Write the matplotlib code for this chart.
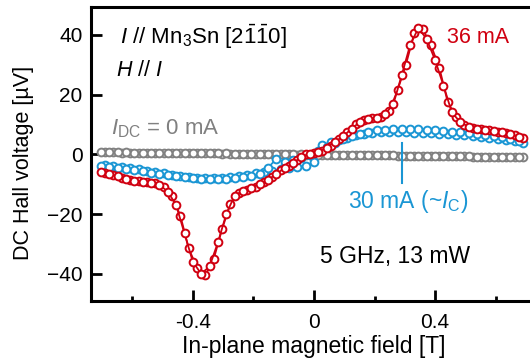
import numpy as np
import matplotlib
matplotlib.use('Agg')
import matplotlib.pyplot as plt

plt.rcParams['font.family'] = ['Liberation Sans', 'DejaVu Sans']
plt.rcParams['mathtext.fontset'] = 'custom'
plt.rcParams['mathtext.rm'] = 'Liberation Sans'
plt.rcParams['mathtext.it'] = 'Liberation Sans:italic'
plt.rcParams['mathtext.bf'] = 'Liberation Sans:bold'

RED = '#d00010'
BLUE = '#1a96d4'
GRAY = '#808080'

# Hall voltage (uV), sweep up (-H -> +H) and sweep down (+H -> -H)
red_up = [-6.2, -7.0, -7.8, -8.6, -9.0, -9.3, -9.6, -10.8, -14.0, -20.5,
          -31.5, -38.0, -40.5, -35.0, -25.0, -16.5, -12.8, -11.8, -10.8, -9.3,
          -7.6, -5.4, -3.8, -1.8, 0.0, 0.5, 1.2, 2.8, 5.0, 7.5,
          10.2, 11.5, 12.0, 12.4, 14.5, 21.4, 30.0, 40.5, 42.0, 36.5,
          29.0, 17.5, 12.5, 9.8, 8.9, 8.4, 8.0, 7.6, 7.2, 6.5, 5.6]
red_down = [5.9, 6.8, 7.3, 7.8, 8.2, 8.6, 9.2, 10.8, 14.0, 23.0,
            31.5, 38.5, 42.3, 36.5, 26.5, 16.8, 13.4, 12.2, 11.8, 10.8,
            8.6, 6.0, 4.2, 2.2, 0.8, 0.2, -0.8, -3.0, -4.6, -6.5,
            -8.6, -9.8, -11.2, -12.2, -13.8, -20.0, -29.5, -37.5, -40.0, -36.0,
            -26.5, -17.0, -12.5, -10.2, -9.5, -9.2, -8.8, -8.2, -7.4, -6.6, -5.8]

blue_up = [-3.6, -4.0, -4.3, -4.6, -5.0, -5.5, -6.0, -6.4, -6.8, -7.2,
           -7.5, -7.8, -8.0, -7.9, -7.8, -7.6, -7.2, -6.8, -6.4, -6.0,
           -5.5, -5.0, -4.5, -4.2, -4.0, -2.5, 3.0, 4.0, 4.8, 5.6,
           6.3, 6.8, 7.2, 7.4, 7.5, 7.4, 7.3, 7.2, 7.1, 7.0,
           6.9, 6.8, 6.6, 6.4, 6.1, 5.8, 5.5, 5.1, 4.7, 4.3, 3.8]
blue_down = [4.5, 5.2, 5.8, 6.2, 6.6, 6.9, 7.2, 7.4, 7.6, 7.8,
             8.0, 8.2, 8.4, 8.5, 8.6, 8.5, 8.3, 8.0, 7.5, 6.8,
             6.0, 5.0, 3.8, 2.5, 1.0, -0.2, -1.2, -2.0, -2.5, -1.5,
             -4.5, -6.5, -7.2, -7.6, -7.9, -8.1, -8.2, -8.2, -8.1, -7.9,
             -7.6, -7.3, -7.0, -6.6, -6.2, -5.7, -5.3, -4.9, -4.5, -4.1, -3.8]

gray_up = [0.7, 0.7, 0.6, 0.6, 0.6, 0.5, 0.5, 0.5, 0.4, 0.4,
           0.4, 0.3, 0.3, 0.3, 0.2, 0.2, 0.2, 0.1, 0.1, 0.1,
           0.0, 0.0, 0.0, -0.1, -0.1, -0.1, -0.2, -0.2, -0.2, -0.3,
           -0.3, -0.3, -0.4, -0.4, -0.4, -0.5, -0.5, -0.5, -0.6, -0.6,
           -0.6, -0.7, -0.7, -0.7, -0.8, -0.8, -0.8, -0.9, -0.9, -0.9, -1.0]
gray_down = [-0.9, -0.9, -0.9, -0.8, -0.8, -0.8, -0.7, -0.7, -0.7, -0.6,
             -0.6, -0.6, -0.5, -0.5, -0.5, -0.4, -0.4, -0.4, -0.3, -0.3,
             -0.3, -0.2, -0.2, -0.2, -0.1, -0.1, 0.0, 0.0, 0.0, 0.1,
             0.1, 0.1, 0.2, 0.2, 0.2, 0.3, 0.3, 0.3, 0.4, 0.4,
             0.4, 0.5, 0.5, 0.5, 0.6, 0.6, 0.6, 0.7, 0.7, 0.7, 0.8]

# field grids (T); the down sweep sits half a step off the up sweep
h_max = 0.69
step = 2 * h_max / (len(red_up) - 1)
h_up = np.linspace(-h_max, h_max, len(red_up))
h_down = np.linspace(h_max, -h_max, len(red_down)) - step / 2

fig = plt.figure(figsize=(5.30, 3.61), dpi=100)
ax = fig.add_axes([0.1717, 0.167, 0.8415, 0.8128])

mk = dict(marker='o', markersize=5.6, markerfacecolor='white',
          markeredgewidth=1.4, linewidth=1.3)
for ys, c, z in [(gray_up, GRAY, 2), (gray_down, GRAY, 2),
                 (blue_up, BLUE, 3), (blue_down, BLUE, 3),
                 (red_up, RED, 4), (red_down, RED, 4)]:
    h = h_up if ys in (gray_up, blue_up, red_up) else h_down
    ax.plot(h, ys, color=c, markeredgecolor=c, zorder=z, **mk)

# marker pointing at the 30 mA curve
ax.plot([0.292, 0.292], [3.7, -9.5], color=BLUE, lw=1.5, zorder=5)

ax.set_xlim(-0.7367, 0.7367)
ax.set_ylim(-49, 49.2)
ax.set_xticks([-0.4, 0, 0.4])
ax.set_xticklabels(['-0.4', '0', '0.4'])
ax.set_xticks([-0.6, -0.2, 0.2, 0.6], minor=True)
ax.set_yticks([-40, -20, 0, 20, 40])

for s in ax.spines.values():
    s.set_linewidth(2.2)
ax.spines['right'].set_visible(False)
ax.tick_params(axis='both', which='major', direction='in', length=8,
               width=2.0, labelsize=15)
ax.tick_params(axis='x', which='major', pad=9)
ax.tick_params(axis='y', which='major', pad=6)
ax.tick_params(axis='x', which='minor', direction='in', length=3.3, width=2.0)
ax.tick_params(top=False, right=False)

ax.set_xlabel('In-plane magnetic field [T]', fontsize=16.5, labelpad=2)
ax.set_ylabel('DC Hall voltage [µV]', fontsize=15.5)
ax.yaxis.set_label_coords(-0.128, 0.468)

ax.text(-0.64, 36.9, r'$I$ // Mn$_3$Sn [2$\bar{1}\bar{1}$0]', fontsize=16)
ax.text(-0.655, 26.2, r'$H$ // $I$', fontsize=15.5)
ax.text(-0.672, 6.5, r'$I_\mathrm{DC}$ = 0 mA', fontsize=16, color=GRAY)
ax.text(0.44, 37.1, '36 mA', fontsize=15.5, color=RED)
ax.text(0.113, -18.1, r'30 mA (~$I_\mathrm{C}$)', fontsize=16.5, color=BLUE)
ax.text(0.02, -36.3, '5 GHz, 13 mW', fontsize=16.5)

fig.savefig('out.png', dpi=100)
